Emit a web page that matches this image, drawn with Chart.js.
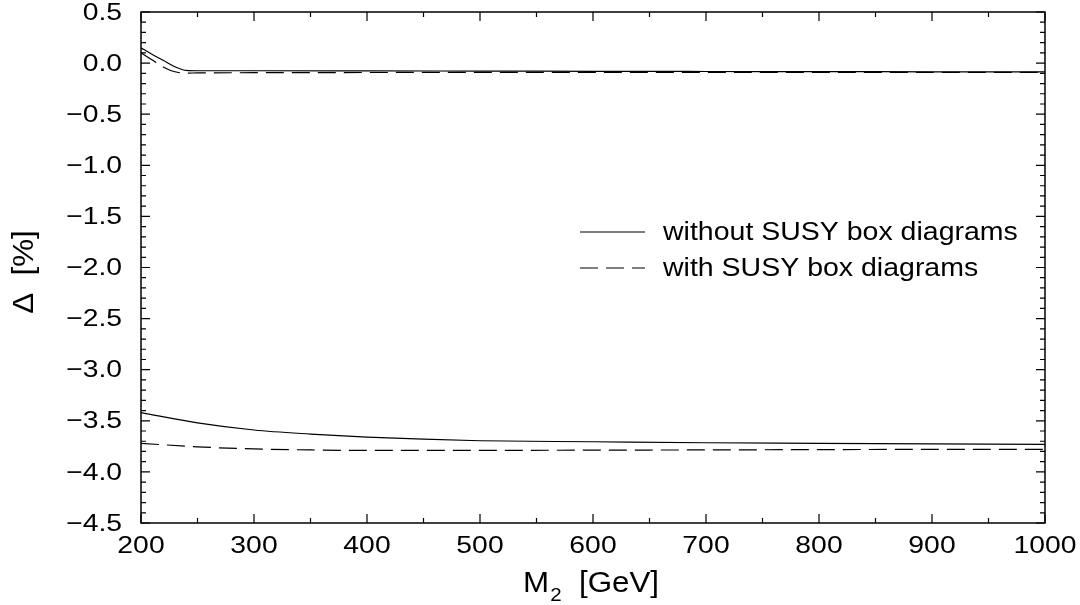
<!DOCTYPE html>
<html>
<head>
<meta charset="utf-8">
<script src="https://cdn.jsdelivr.net/npm/chart.js@4.4.1/dist/chart.umd.min.js"></script>
<style>
    html, body { margin: 0; padding: 0; background: #fff; }
    #wrap { width: 1080px; height: 605px; }
</style>
</head>
<body>
<div id="wrap"><canvas id="grafico"></canvas></div>
<script>
// valores
let masa_arriba = [200, 210, 220, 230, 240, 250, 300, 400, 500, 600, 700, 800, 900, 1000]
let sin_box_arriba = [0.15, 0.085, 0.025, -0.035, -0.072, -0.075, -0.075, -0.076, -0.078, -0.08, -0.082, -0.083, -0.085, -0.086]
let con_box_arriba = [0.10, 0.03, -0.04, -0.085, -0.098, -0.096, -0.094, -0.092, -0.091, -0.09, -0.09, -0.09, -0.09, -0.09]

let masa_abajo = [200, 250, 300, 350, 400, 450, 500, 600, 700, 800, 900, 1000]
let sin_box_abajo = [-3.42, -3.52, -3.59, -3.63, -3.66, -3.68, -3.695, -3.705, -3.715, -3.72, -3.725, -3.73]
let con_box_abajo = [-3.72, -3.755, -3.775, -3.785, -3.79, -3.79, -3.79, -3.787, -3.785, -3.782, -3.78, -3.78]

let etiquetas_leyenda = ['without SUSY box diagrams', 'with SUSY box diagrams']
let x_min = 200, x_max = 1000, x_paso = 100, x_menor = 50
let y_min = -4.5, y_max = 0.5, y_paso = 0.5, y_menor = 0.1

let guion = [18, 8]

function puntos(xs, ys){
    return xs.map((x, i) => ({x: x, y: ys[i]}))
}

function serie(nombre, xs, ys, dash){
    return {
        label: nombre,
        data: puntos(xs, ys),
        borderColor: '#000',
        borderWidth: 1.2,
        borderDash: dash,
        pointRadius: 0,
        fill: false,
        cubicInterpolationMode: 'monotone'
    }
}

function texto_estirado(ctx, txt, x, y, escala, align){
    ctx.save()
    ctx.translate(x, y)
    ctx.scale(escala, 1)
    ctx.textAlign = align
    ctx.fillText(txt, 0, 0)
    ctx.restore()
}

// ejes, marcas hacia dentro, etiquetas y leyenda
const marco = {
    id: 'marco',
    afterDraw(chart){
        const ctx = chart.ctx
        const a = chart.chartArea
        const sx = chart.scales.x
        const sy = chart.scales.y
        ctx.save()
        ctx.strokeStyle = '#000'
        ctx.fillStyle = '#000'
        ctx.lineWidth = 1.5
        ctx.setLineDash([])
        ctx.strokeRect(a.left, a.top, a.right - a.left, a.bottom - a.top)

        ctx.lineWidth = 1.2
        ctx.beginPath()
        for (let v = x_min; v <= x_max + 0.001; v += x_menor) {
            let px = sx.getPixelForValue(v)
            let largo = (Math.round(v) % x_paso == 0) ? 9 : 5
            ctx.moveTo(px, a.bottom); ctx.lineTo(px, a.bottom - largo)
            ctx.moveTo(px, a.top); ctx.lineTo(px, a.top + largo)
        }
        for (let k = 0; k <= Math.round((y_max - y_min) / y_menor); k++) {
            let v = y_min + k * y_menor
            let py = sy.getPixelForValue(v)
            let largo = (k % 5 == 0) ? 9 : 5
            ctx.moveTo(a.left, py); ctx.lineTo(a.left + largo, py)
            ctx.moveTo(a.right, py); ctx.lineTo(a.right - largo, py)
        }
        ctx.stroke()

        // etiquetas de los ejes
        ctx.font = '24px "Liberation Sans", Arial, sans-serif'
        ctx.textBaseline = 'middle'
        for (let v = x_min; v <= x_max; v += x_paso) {
            texto_estirado(ctx, String(v), sx.getPixelForValue(v), 546, 1.18, 'center')
        }
        for (let k = 0; k <= Math.round((y_max - y_min) / y_paso); k++) {
            let v = y_min + k * y_paso
            let txt = v.toFixed(1).replace('-', '\u2212')
            texto_estirado(ctx, txt, 122, sy.getPixelForValue(v) + 1, 1.18, 'right')
        }

        // titulo eje x: M_2  [GeV]
        ctx.textBaseline = 'alphabetic'
        ctx.save()
        ctx.translate(523, 592)
        ctx.scale(1.08, 1)
        ctx.textAlign = 'left'
        ctx.font = '29px "Liberation Sans", Arial, sans-serif'
        ctx.fillText('M', 0, 0)
        let wM = ctx.measureText('M').width
        ctx.font = '19px "Liberation Sans", Arial, sans-serif'
        ctx.fillText('2', wM + 1, 9)
        let w2 = ctx.measureText('2').width
        ctx.font = '29px "Liberation Sans", Arial, sans-serif'
        ctx.fillText('  [GeV]', wM + w2 + 1, 0)
        ctx.restore()

        // titulo eje y
        ctx.save()
        ctx.translate(33, 272)
        ctx.rotate(-Math.PI / 2)
        ctx.scale(1.08, 1)
        ctx.font = '29px "Liberation Sans", Arial, sans-serif'
        ctx.textAlign = 'center'
        ctx.fillText('\u0394  [%]', 0, 0)
        ctx.restore()

        // leyenda
        const filas = [[232, []], [268, guion]]
        ctx.font = '25px "Liberation Sans", Arial, sans-serif'
        ctx.textBaseline = 'middle'
        filas.forEach((f, i) => {
            ctx.lineWidth = 1.2
            ctx.setLineDash(f[1])
            ctx.beginPath()
            ctx.moveTo(580, f[0]); ctx.lineTo(645, f[0])
            ctx.stroke()
            ctx.setLineDash([])
            texto_estirado(ctx, etiquetas_leyenda[i], 663, f[0] + 1, 1.14, 'left')
        })
        ctx.restore()
    }
}

const configuracion = {
    type: 'line',
    data: {
        datasets: [
            serie(etiquetas_leyenda[0], masa_arriba, sin_box_arriba, []),
            serie(etiquetas_leyenda[1], masa_arriba, con_box_arriba, guion),
            serie(etiquetas_leyenda[0], masa_abajo, sin_box_abajo, []),
            serie(etiquetas_leyenda[1], masa_abajo, con_box_abajo, guion)
        ]
    },
    options: {
        responsive: false,
        animation: false,
        layout: { padding: { left: 0, top: 12, right: 35, bottom: 0 } },
        plugins: { legend: { display: false }, tooltip: { enabled: false } },
        scales: {
            x: {
                type: 'linear', min: x_min, max: x_max,
                grid: { display: false },
                border: { display: false },
                ticks: { display: false, stepSize: x_paso },
                afterFit(s) { s.height = 82 }
            },
            y: {
                type: 'linear', min: y_min, max: y_max,
                grid: { display: false },
                border: { display: false },
                ticks: { display: false, stepSize: y_paso },
                afterFit(s) { s.width = 141 }
            }
        }
    },
    plugins: [marco]
}

const lienzo = document.getElementById('grafico')
lienzo.width = 1080
lienzo.height = 605
new Chart(lienzo.getContext('2d'), configuracion)
</script>
</body>
</html>
